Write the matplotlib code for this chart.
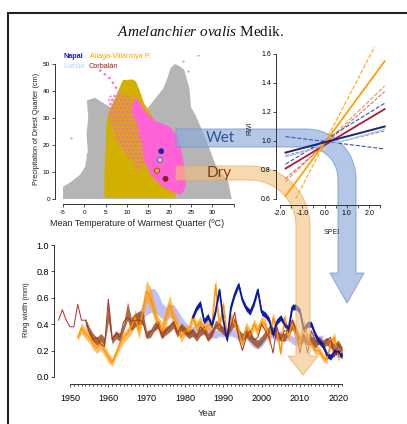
import numpy as np
import matplotlib
matplotlib.use("Agg")
import matplotlib.pyplot as plt
from matplotlib.patches import Polygon

# ---------------- data ----------------
# climate niche scatter (outlines of the point clouds, T in degC, P in cm)
grey_T = [-5.0, -5.0, -3.0, -1.0, 0.2, 0.8, 0.5, 0.9, 0.6, 2.5, 5.0, 7.0, 9.0, 12.0,
          15.0, 17.0, 18.5, 19.5, 20.2, 21.2, 22.5, 23.4, 24.6, 25.0, 26.2, 28.5,
          30.9, 33.6, 34.4, 34.5]
grey_P = [0.0, 4.5, 6.5, 9.0, 12.0, 18.0, 24.0, 30.0, 36.5, 37.5, 35.0, 33.0, 30.0, 30.0,
          34.0, 38.0, 41.0, 45.0, 48.5, 50.0, 49.0, 47.8, 41.0, 34.0, 30.5, 22.0,
          12.0, 7.0, 1.0, 0.0]
grey_out_T = [-3.1, 0.5, 26.5, 23.0, 24.3, 1.5]
grey_out_P = [22.5, 16.3, 53.5, 51.0, 47.5, 13.0]

olive_T = [4.7, 4.7, 5.0, 5.2, 5.9, 7.0, 9.0, 11.3, 12.1, 12.9, 14.0, 16.4, 18.4, 20.0,
           20.7, 21.1, 21.5]
olive_P = [0.5, 10.0, 18.0, 29.0, 33.0, 36.7, 44.0, 44.3, 43.5, 40.4, 35.4, 29.3, 26.8,
           21.9, 15.7, 7.0, 0.5]

pink_T = [12.0, 14.0, 16.5, 20.0, 22.3, 23.4, 23.8, 22.7, 20.7, 18.0, 15.5, 14.0, 13.5,
          12.5, 11.0]
pink_P = [38.0, 33.0, 29.0, 26.8, 22.0, 12.0, 4.6, 1.5, 2.5, 5.0, 9.0, 14.0, 20.0, 27.0, 33.0]
pink_sparse_T = [5.5, 8.0, 11.0, 13.0, 14.0, 13.0, 11.0, 8.0, 6.0]
pink_sparse_P = [38.0, 39.0, 38.0, 30.0, 14.0, 10.0, 14.0, 20.0, 28.0]
pink_streak_T = [3.5, 5.9, 7.0, 8.2]
pink_streak_P = [47.8, 44.8, 42.3, 39.2]

sites = ["Napal", "Luesia", "Aliaga-Villarroya P.", "Corbalán"]
site_colors = ["#1a1ad0", "#a6d8f0", "#ffa000", "#a01818"]
site_T = [18.0, 17.7, 17.0, 19.0]
site_P = [17.7, 14.5, 10.5, 7.5]

# RWI vs SPEI response lines (x0, x1, y0, y1)
rwi_lines = {
    "orange_fit": ([-1.75, 2.7], [0.62, 1.55]),
    "orange_hi": ([-1.3, 2.25], [0.60, 1.65]),
    "orange_lo": ([-1.75, 2.7], [0.72, 1.38]),
    "red_fit": ([-1.75, 2.7], [0.81, 1.22]),
    "red_hi": ([-1.75, 2.7], [0.74, 1.34]),
    "red_lo": ([-1.75, 2.7], [0.90, 1.07]),
    "lblue_fit": ([-1.75, 2.7], [0.89, 1.08]),
    "navy_fit": ([-1.75, 2.7], [0.92, 1.10]),
    "navy_hi": ([-1.75, 2.7], [0.84, 1.26]),
    "navy_lo": ([-1.75, 2.7], [1.03, 0.945]),
}

# ring width chronologies (mm)
corb_years = np.arange(1947, 2022)
corb_rw = [0.43, 0.51, 0.43, 0.38, 0.38, 0.55, 0.43, 0.43, 0.35, 0.28,
           0.30, 0.25, 0.23, 0.59, 0.28, 0.33, 0.30, 0.42, 0.45, 0.42,
           0.43, 0.43, 0.42, 0.30, 0.35, 0.35, 0.40, 0.30, 0.35, 0.38,
           0.42, 0.33, 0.38, 0.35, 0.32, 0.35, 0.30, 0.38, 0.35, 0.28,
           0.33, 0.38, 0.40, 0.35, 0.30, 0.39, 0.49, 0.30, 0.20, 0.30,
           0.35, 0.28, 0.30, 0.40, 0.35, 0.30, 0.18, 0.38, 0.28, 0.35,
           0.35, 0.43, 0.35, 0.18, 0.33, 0.18, 0.35, 0.28, 0.25, 0.23,
           0.28, 0.30, 0.15, 0.25, 0.20]

brown_years = np.arange(1954, 2022)
brown_rw = [0.42, 0.35, 0.30, 0.27, 0.30, 0.27, 0.50, 0.28, 0.32, 0.30,
            0.38, 0.50, 0.40, 0.43, 0.45, 0.45, 0.32, 0.33, 0.38, 0.40,
            0.32, 0.35, 0.37, 0.40, 0.33, 0.38, 0.35, 0.32, 0.34, 0.30,
            0.34, 0.36, 0.30, 0.33, 0.40, 0.38, 0.35, 0.33, 0.38, 0.42,
            0.33, 0.30, 0.33, 0.30, 0.27, 0.25, 0.28, 0.32, 0.36, 0.35,
            0.32, 0.30, 0.30, 0.35, 0.40, 0.35, 0.28, 0.30, 0.27, 0.28,
            0.25, 0.28, 0.25, 0.27, 0.25, 0.22, 0.25, 0.20]
brown_se = [0.03, 0.03, 0.03, 0.03, 0.03, 0.03, 0.08, 0.03, 0.03, 0.03,
            0.03, 0.07, 0.05, 0.05, 0.05, 0.05, 0.03, 0.03, 0.03, 0.03,
            0.03, 0.03, 0.03, 0.03, 0.03, 0.03, 0.03, 0.03, 0.03, 0.03,
            0.03, 0.03, 0.03, 0.03, 0.03, 0.03, 0.03, 0.03, 0.03, 0.03,
            0.03, 0.03, 0.03, 0.03, 0.03, 0.03, 0.03, 0.03, 0.03, 0.03,
            0.03, 0.03, 0.03, 0.03, 0.04, 0.03, 0.03, 0.03, 0.03, 0.03,
            0.03, 0.03, 0.03, 0.03, 0.03, 0.03, 0.03, 0.03]

aliaga_years = np.arange(1952, 2022)
aliaga_rw = [0.30, 0.37, 0.33, 0.30, 0.25, 0.22, 0.25, 0.20, 0.15, 0.11,
             0.18, 0.25, 0.30, 0.33, 0.38, 0.45, 0.35, 0.50, 0.65, 0.60,
             0.50, 0.40, 0.35, 0.45, 0.55, 0.45, 0.40, 0.30, 0.35, 0.35,
             0.45, 0.38, 0.42, 0.35, 0.40, 0.38, 0.70, 0.38, 0.55, 0.30,
             0.45, 0.40, 0.35, 0.25, 0.38, 0.32, 0.40, 0.35, 0.42, 0.40,
             0.28, 0.45, 0.35, 0.18, 0.45, 0.30, 0.42, 0.30, 0.25, 0.40,
             0.30, 0.25, 0.20, 0.20, 0.15, 0.13, 0.25, 0.30, 0.15, 0.20]
aliaga_se = [0.03, 0.04, 0.04, 0.04, 0.04, 0.04, 0.04, 0.04, 0.04, 0.03,
             0.03, 0.04, 0.04, 0.04, 0.05, 0.06, 0.06, 0.08, 0.08, 0.08,
             0.07, 0.06, 0.06, 0.07, 0.07, 0.06, 0.05, 0.04, 0.04, 0.04,
             0.04, 0.04, 0.04, 0.04, 0.04, 0.04, 0.05, 0.04, 0.04, 0.04,
             0.04, 0.04, 0.04, 0.03, 0.04, 0.04, 0.04, 0.04, 0.04, 0.04,
             0.04, 0.04, 0.04, 0.03, 0.04, 0.04, 0.04, 0.04, 0.03, 0.04,
             0.03, 0.03, 0.03, 0.03, 0.03, 0.03, 0.03, 0.04, 0.03, 0.03]

napal_years = np.arange(1982, 2022)
napal_rw = [0.45, 0.52, 0.56, 0.42, 0.46, 0.39, 0.50, 0.66, 0.43, 0.28,
            0.53, 0.63, 0.70, 0.58, 0.52, 0.49, 0.56, 0.66, 0.49, 0.47,
            0.43, 0.32, 0.42, 0.45, 0.40, 0.36, 0.53, 0.53, 0.50, 0.36,
            0.40, 0.40, 0.32, 0.27, 0.24, 0.17, 0.15, 0.19, 0.19, 0.16]

luesia_years = np.arange(1967, 2017)
luesia_rw = [0.45, 0.45, 0.50, 0.55, 0.58, 0.58, 0.55, 0.50, 0.48, 0.50,
             0.50, 0.46, 0.42, 0.38, 0.35, 0.34, 0.36, 0.38, 0.36, 0.35,
             0.33, 0.32, 0.34, 0.33, 0.34, 0.34, 0.33, 0.30, 0.30, 0.32,
             0.28, 0.25, 0.24, 0.26, 0.30, 0.33, 0.32, 0.30, 0.32, 0.30,
             0.31, 0.28, 0.27, 0.28, 0.28, 0.30, 0.30, 0.27, 0.28, 0.29]
luesia_se = [0.03, 0.04, 0.06, 0.08, 0.09, 0.09, 0.08, 0.06, 0.05, 0.05,
             0.05, 0.05, 0.04, 0.04, 0.04, 0.04, 0.04, 0.04, 0.04, 0.04,
             0.03, 0.03, 0.03, 0.03, 0.03, 0.03, 0.03, 0.03, 0.03, 0.03,
             0.03, 0.03, 0.03, 0.03, 0.03, 0.03, 0.03, 0.03, 0.03, 0.03,
             0.03, 0.03, 0.03, 0.03, 0.03, 0.03, 0.03, 0.03, 0.03, 0.03]

# ---------------- layout helpers (pixels) ----------------
W, H = 407, 424
plt.rcParams["font.family"] = ["Liberation Sans", "DejaVu Sans"]
plt.rcParams["mathtext.fontset"] = "custom"
plt.rcParams["mathtext.it"] = "Liberation Serif:italic"
plt.rcParams["mathtext.rm"] = "Liberation Serif"
plt.rcParams["hatch.linewidth"] = 1.4

fig = plt.figure(figsize=(W / 100, H / 100), dpi=100)
PT = 0.72  # points per pixel


def ax_at(l, t, r, b, z=0):
    return fig.add_axes([l / W, 1 - b / H, (r - l) / W, (b - t) / H], zorder=z)


def r_style(ax, xb, yb, xo, yo, size):
    for s in ("top", "right"):
        ax.spines[s].set_visible(False)
    ax.spines["left"].set_position(("outward", xo * PT))
    ax.spines["bottom"].set_position(("outward", yo * PT))
    ax.spines["bottom"].set_bounds(*xb)
    ax.spines["left"].set_bounds(*yb)
    for s in ("left", "bottom"):
        ax.spines[s].set_linewidth(0.7)
        ax.spines[s].set_color("#333333")
    ax.tick_params(which="both", direction="out", width=0.6, color="#333333",
                   labelsize=size, pad=1.5, length=3 * PT)
    ax.patch.set_visible(False)


def ftext(px, py, s, **kw):
    fig.text(px / W, 1 - py / H, s, **kw)


# ---------------- scatter panel ----------------
ax1 = ax_at(57, 55, 235, 201, z=0)
ax1.set_xlim(-6.41, 35.28)
ax1.set_ylim(-0.74, 53.33)
ax1.fill(grey_T, grey_P, color="#b5b5b5", lw=0)
ax1.scatter(grey_out_T, grey_out_P, s=3, color="#b5b5b5", lw=0)
ax1.fill(olive_T, olive_P, color="#d2b000", lw=0)
ax1.fill(pink_sparse_T, pink_sparse_P, facecolor="none", edgecolor="#ff5fd2",
         hatch="....", lw=0)
ax1.fill(pink_T, pink_P, color="#ff62d4", lw=0)
ax1.plot(pink_streak_T, pink_streak_P, ls=":", color="#ff62d4", lw=1.6)
ax1.scatter(site_T, site_P, s=14, c=site_colors, edgecolors="#333333", linewidths=0.4,
            zorder=5)
r_style(ax1, (-5, 35), (0, 50), 2, 3, 4.6)
ax1.set_xticks(range(-5, 36, 5))
ax1.set_xticklabels([str(v) for v in range(-5, 31, 5)] + [""])
ax1.tick_params(axis="x", pad=2.5)
ax1.set_yticks(range(0, 51, 10))
ftext(37, 129, "Precipitation of Driest Quarter (cm)", rotation=90, fontsize=5.2,
      ha="center", va="center", color="#222222")
ftext(137, 224, "Mean Temperature of Warmest Quarter (ºC)", fontsize=6.4,
      ha="center", va="center", color="#222222")
ftext(63, 57, "Napal", color=site_colors[0], fontsize=5.2, fontweight="bold", va="center")
ftext(90, 57, "Aliaga-Villarroya P.", color=site_colors[2], fontsize=5.2, va="center")
ftext(63, 66.5, "Luesia", color=site_colors[1], fontsize=5.2, va="center")
ftext(89, 66.5, "Corbalán", color=site_colors[3], fontsize=5.2, va="center")

# ---------------- ring width panel ----------------
ax3 = ax_at(56, 240, 352, 380, z=0)
ax3.set_xlim(1946.34, 2023.6)
ax3.set_ylim(-0.023, 1.038)


def band(years, vals, se, color, alpha, z):
    v = np.array(vals)
    s = np.array(se)
    ax3.fill_between(years, v - s, v + s, color=color, alpha=alpha, lw=0, zorder=z)


band(luesia_years, luesia_rw, luesia_se, "#8c8cff", 0.55, 1)
band(aliaga_years, aliaga_rw, aliaga_se, "#ffa01e", 0.7, 2)
band(brown_years, brown_rw, brown_se, "#9a5425", 0.85, 3)
band(napal_years, napal_rw, [0.022] * len(napal_rw), "#0a1aa8", 0.95, 4)
ax3.plot(aliaga_years, aliaga_rw, color="#ff9800", lw=1.0, zorder=5)
ax3.plot(corb_years, corb_rw, color="#b03028", lw=0.7, zorder=6)
ax3.plot(napal_years, napal_rw, color="#0a1aa8", lw=1.2, zorder=7)
r_style(ax3, (1950, 2021), (0, 1), 2, 4, 6.5)
ax3.set_xticks(range(1950, 2021, 10))
ax3.set_xticks(range(1950, 2022), minor=True)
ax3.tick_params(axis="x", which="minor", length=2.2 * PT)
ax3.tick_params(axis="x", which="major", pad=5)
ax3.set_yticks(np.arange(0, 1.01, 0.2))
ax3.set_yticklabels([f"{v:.1f}" for v in np.arange(0, 1.01, 0.2)])
ftext(27, 310, "Ring width (mm)", rotation=90, fontsize=5.4, ha="center", va="center",
      color="#222222")
ftext(207, 414, "Year", fontsize=6.8, ha="center", va="center", color="#222222")

# ---------------- arrows (overlay) ----------------
ov = fig.add_axes([0, 0, 1, 1], zorder=1)
ov.set_xlim(0, W)
ov.set_ylim(H, 0)
ov.axis("off")


def bend_arrow(x0, y_top, y_bot, cx, cy, x_in, x_out, y_head, head_half, y_tip):
    r_out = x_out - cx
    r_in = x_in - cx
    a = np.linspace(-np.pi / 2, 0, 30)
    pts = [(x0, y_top)]
    pts += list(zip(cx + r_out * np.cos(a), cy + r_out * np.sin(a)))
    xm = (x_in + x_out) / 2
    pts += [(x_out, y_head), (xm + head_half, y_head), (xm, y_tip),
            (xm - head_half, y_head), (x_in, y_head)]
    pts += list(zip(cx + r_in * np.cos(a[::-1]), cy + r_in * np.sin(a[::-1])))
    pts += [(x0, y_bot)]
    return pts


wet = Polygon(bend_arrow(176, 129, 147, 306, 179, 338, 356, 273, 17, 303),
              closed=True, facecolor="#8eaadb", edgecolor="#6f8fcf", lw=0.8, alpha=0.65)
dry = Polygon(bend_arrow(176, 166, 180, 250, 226, 296, 310, 356, 15, 375),
              closed=True, facecolor="#f2c07a", edgecolor="#e6a35a", lw=0.8, alpha=0.6)
ov.add_patch(dry)
ov.add_patch(wet)
ov.text(220, 138, "Wet", color="#2f5597", fontsize=11, family="Lato",
        ha="center", va="center")
ov.text(219, 173, "Dry", color="#843c0c", fontsize=11, family="Lato",
        ha="center", va="center")
# frame lines
ov.plot([7, W], [13, 13], color="#222222", lw=1.5, solid_capstyle="butt")
ov.plot([8, 8], [13, H], color="#222222", lw=1.5, solid_capstyle="butt")

# ---------------- RWI panel ----------------
ax2 = ax_at(278, 45, 392, 201, z=2)
ax2.set_xlim(-2.09, 3.03)
ax2.set_ylim(0.586, 1.662)
line_styles = {
    "orange_hi": ("#ffa500", "--", 0.8), "orange_lo": ("#f09040", "--", 0.8),
    "red_hi": ("#d96060", "--", 0.7), "red_lo": ("#d96060", "--", 0.7),
    "navy_hi": ("#3a4fc0", "--", 0.8), "navy_lo": ("#3a4fc0", "--", 0.8),
    "lblue_fit": ("#9fd3e8", "-", 1.0), "red_fit": ("#b01c2e", "-", 1.3),
    "orange_fit": ("#ffa000", "-", 1.3), "navy_fit": ("#1a237e", "-", 1.4),
}
for key, (c, ls, lw) in line_styles.items():
    xs, ys = rwi_lines[key]
    ax2.plot(xs, ys, color=c, ls=ls, lw=lw, clip_on=False)
r_style(ax2, (-2, 2.5), (0.6, 1.6), 2, 4, 5.0)
ax2.set_xticks(np.arange(-2, 2.6, 0.5))
ax2.set_xticklabels(["-2.0", "", "-1.0", "", "0.0", "", "1.0", "", "2.0", ""])
ax2.set_yticks(np.arange(0.6, 1.61, 0.2))
ax2.set_yticklabels([f"{v:.1f}" for v in np.arange(0.6, 1.61, 0.2)])
ftext(250, 128, "RWI", rotation=90, fontsize=5.0, ha="center", va="center",
      color="#222222")
ftext(332, 232, "SPEI", fontsize=5.0, ha="center", va="center", color="#222222")

# ---------------- title ----------------
ftext(201, 32, r"$\mathit{Amelanchier\ ovalis}$ Medik.", fontsize=11,
      family="Liberation Serif", ha="center", va="center", color="#111111")

fig.savefig("out.png", dpi=100)
